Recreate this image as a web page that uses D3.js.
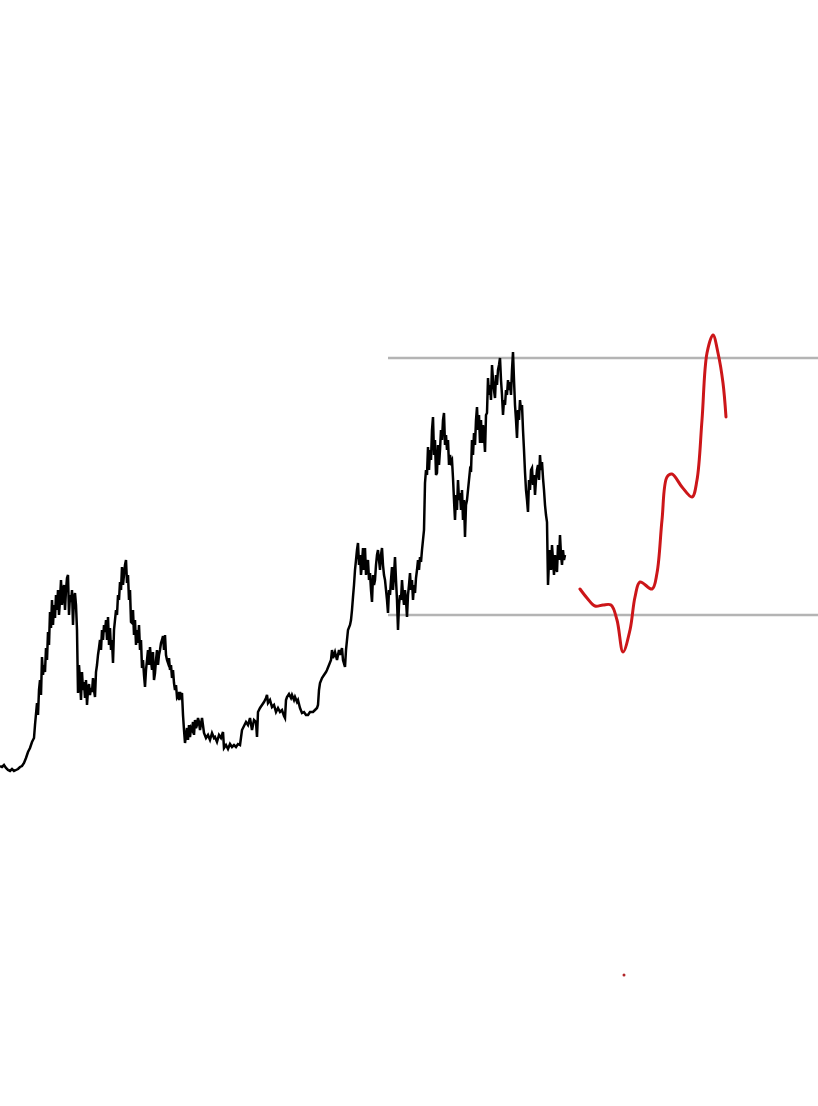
<!DOCTYPE html>
<head>
    <meta charset="utf-8">
    <title>Price history and projection</title>
    <style>
        body { margin: 0; background: #fff; }
        svg { display: block; }
    </style>
</head>
<body>

<svg width="818" height="1106"></svg>

<script src="https://d3js.org/d3.v7.min.js"></script>
<script>

    // price history, [day, price]
    var priceHistory = [
        [0,34],[2,33],[4,35],[6,32],[8,30],[10,29],[12,31],[14,29],[16,30],[18,31],[20,33],[22,34],[24,37],[26,42],[28,48],[30,52],
        [32,58],[34,62],[35,75],[37,97],[38,85],[39,110],[40,120],[41,105],[42,143],[43,125],[44,135],[45,128],[46,152],[47,140],[48,168],
        [49,155],[50,188],[51,172],[52,200],[53,175],[54,195],[55,182],[56,205],[57,190],[58,210],[59,185],[60,200],[61,220],[62,195],
        [63,208],[64,215],[65,190],[66,210],[67,222],[68,225],[69,185],[70,205],[71,198],[72,210],[73,175],[74,202],[75,207],[76,195],
        [77,170],[78,107],[79,135],[80,120],[81,100],[82,128],[83,110],[84,118],[85,102],[86,120],[87,95],[88,110],[89,116],[90,105],
        [91,112],[92,108],[93,122],[94,110],[95,103],[96,128],[97,135],[98,145],[99,152],[100,160],[101,150],[102,170],[103,160],[104,175],
        [105,168],[106,180],[107,160],[108,183],[109,155],[110,172],[111,150],[112,160],[113,137],[114,170],[115,180],[116,190],[117,185],
        [118,205],[119,200],[120,218],[121,210],[122,233],[123,215],[124,225],[125,235],[126,240],[127,217],[128,225],[129,200],[130,210],
        [131,178],[132,177],[133,190],[134,165],[135,180],[136,155],[137,170],[138,157],[139,175],[140,150],[141,160],[142,132],[143,140],
        [144,125],[145,113],[146,130],[147,140],[148,150],[149,135],[150,153],[151,140],[152,130],[153,148],[154,120],[155,127],[156,140],
        [157,150],[158,135],[159,145],[160,150],[161,157],[162,160],[163,164],[164,150],[165,165],[166,145],[167,140],[168,137],[169,142],
        [170,130],[171,135],[172,122],[173,130],[174,117],[175,110],[176,115],[177,103],[178,105],[179,100],[180,108],[181,104],[182,107],
        [183,85],[184,70],[185,57],[186,65],[187,72],[188,60],[189,75],[190,63],[191,72],[192,70],[193,78],[194,65],[195,80],[196,72],
        [197,75],[198,82],[199,78],[200,70],[202,82],[204,67],[206,62],[208,65],[210,60],[212,67],[214,62],[215,63],[217,58],[219,65],
        [221,62],[223,68],[224,52],[226,55],[228,51],[230,56],[232,53],[234,55],[236,53],[238,56],[240,55],[242,70],[244,74],[246,78],
        [248,75],[250,82],[252,70],[254,80],[256,78],[257,63],[258,88],[260,92],[262,95],[264,98],[266,102],[267,105],[268,97],[270,100],
        [272,93],[274,95],[276,88],[278,92],[280,88],[282,90],[284,84],[285,82],[286,100],[287,103],[289,106],[291,102],[292,105],[294,100],
        [295,103],[297,98],[298,100],[300,92],[302,87],[304,88],[306,85],[308,85],[310,88],[313,88],[315,90],[317,92],[318,95],[319,110],
        [320,117],[322,122],[324,125],[326,128],[327,130],[329,135],[331,140],[332,150],[333,142],[335,148],[337,140],[339,150],[340,145],
        [342,152],[343,140],[345,133],
        [346,150],[347,160],[348,170],[350,175],[351,180],[352,190],[353,203],[354,215],[355,230],[356,240],[357,250],[358,257],[359,235],
        [360,245],[361,225],[362,237],[363,252],[364,230],[365,252],[366,225],[367,235],[368,240],[369,220],[370,227],[371,210],[372,198],
        [373,225],[374,215],[375,220],[376,235],[377,245],[378,250],[379,240],[380,230],[381,245],[382,252],[383,235],[384,225],[385,220],
        [386,210],[387,200],[388,187],[389,210],[390,205],[391,220],[392,233],[393,210],[394,225],[395,243],[396,220],[397,200],[398,170],
        [399,195],[400,205],[401,200],[402,220],[403,205],[404,195],[405,210],[406,200],[407,183],[408,205],[409,215],[410,227],[411,210],
        [412,220],[413,200],[414,215],[415,207],[416,222],[417,230],[418,240],[419,230],[420,243],[421,238],[422,250],[423,260],[424,270],
        [425,317],[426,330],[427,325],[428,353],[429,330],[430,350],[431,340],[432,370],[433,383],[434,345],[435,360],[436,325],[437,327],
        [438,355],[439,335],[440,350],[441,370],[442,360],[443,380],[444,387],[445,355],[446,365],[447,350],[448,360],[449,335],[450,345],
        [451,338],[452,340],[453,322],[454,300],[455,280],[456,305],[457,290],[458,320],[459,300],[460,307],[461,290],[462,310],[463,280],
        [464,300],[465,263],[466,295],[467,300],[468,310],[469,320],[470,330],[471,328],[472,360],[473,345],[474,367],[475,355],[476,380],
        [477,393],[478,370],[479,385],[480,357],[481,380],[482,357],[483,375],[484,365],[485,348],[486,385],[487,387],[488,422],[489,405],
        [490,415],[491,400],[492,435],[493,420],[494,410],[495,402],[496,425],[497,415],[498,430],[499,435],[500,442],[501,420],[502,405],
        [503,385],[504,400],[505,395],[506,410],[507,405],[508,420],[509,410],[510,418],[511,405],[512,430],[513,448],[514,420],[515,395],
        [516,380],[517,362],[518,390],[519,380],[520,400],[521,390],[522,395],[523,370],[524,350],[525,328],[526,310],[527,300],[528,288],
        [529,320],[530,310],[531,330],[532,332],[533,315],[534,325],[535,305],[536,320],[537,330],[538,335],[539,320],[540,345],[541,330],
        [542,338],[543,322],[544,310],[545,295],[546,285],[547,278],[548,215],[549,240],[550,250],[551,230],[552,255],[553,240],[554,225],
        [555,245],[556,235],[557,228],[558,255],[559,240],[560,265],[561,245],[562,235],[563,250],[564,240],[565,245]
    ];

    // hand drawn projection, [day, price]
    var projection = [
        [580,211],[587,202],[595,194],[603,195],[611,195],[617,180],[623,148],[630,170],[635,203],[640,218],[652,211],
        [657,227],[662,280],[667,323],[672,326],[682,313],[692,303],[697,320],[702,380],[707,447],[713,465],[718,447],
        [723,417],[726,383]
    ];

    // range top / bottom
    var levels = [442, 185];
    var levelStart = 388;

    // stray dot
    var marker = [624, -175];

    var svg = d3.select("svg"),
        width = +svg.attr("width"),
        height = +svg.attr("height");

    var x = d3.scaleLinear()
        .domain([0, 818])
        .range([0, width]);

    var y = d3.scaleLinear()
        .domain([0, 800])
        .range([800, 0]);

    svg.append("g")
        .attr("class", "levels")
        .selectAll("line")
        .data(levels)
        .enter().append("line")
        .attr("x1", x(levelStart))
        .attr("x2", width)
        .attr("y1", function (d) { return y(d); })
        .attr("y2", function (d) { return y(d); })
        .attr("stroke", "#b4b4b4")
        .attr("stroke-width", 2.5);

    var line = d3.line()
        .x(function (d) { return x(d[0]); })
        .y(function (d) { return y(d[1]); });

    svg.append("path")
        .datum(priceHistory)
        .attr("fill", "none")
        .attr("stroke", "#000")
        .attr("stroke-width", 2.5)
        .attr("stroke-linejoin", "miter")
        .attr("d", line);

    var smooth = d3.line()
        .x(function (d) { return x(d[0]); })
        .y(function (d) { return y(d[1]); })
        .curve(d3.curveCatmullRom.alpha(0.5));

    svg.append("path")
        .datum(projection)
        .attr("fill", "none")
        .attr("stroke", "#cc1619")
        .attr("stroke-width", 3)
        .attr("stroke-linecap", "round")
        .attr("d", smooth);

    svg.append("circle")
        .attr("cx", x(marker[0]))
        .attr("cy", y(marker[1]))
        .attr("r", 1.5)
        .attr("fill", "#b0262a");

</script>

</body>
